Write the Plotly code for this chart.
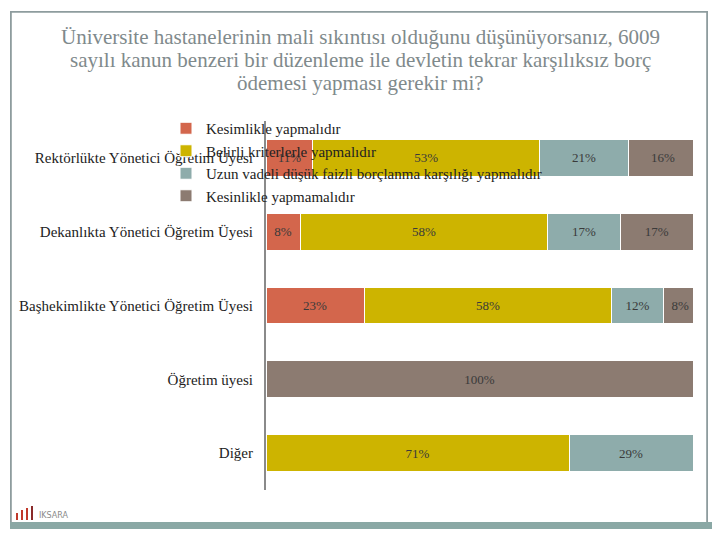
import plotly.graph_objects as go

categories = [
    "Rektörlükte Yönetici Öğretim Üyesi",
    "Dekanlıkta Yönetici Öğretim Üyesi",
    "Başhekimlikte Yönetici Öğretim Üyesi",
    "Öğretim üyesi",
    "Diğer",
]
series_names = [
    "Kesimlikle yapmalıdır",
    "Belirli kriterlerle yapmalıdır",
    "Uzun vadeli düşük faizli borçlanma karşılığı yapmalıdır",
    "Kesinlikle yapmamalıdır",
]
kesinlikle_yapmali = [11, 8, 23, None, None]
belirli_kriter = [53, 58, 58, None, 71]
uzun_vadeli = [21, 17, 12, None, 29]
kesinlikle_yapmamali = [16, 17, 8, 100, None]
series_values = [kesinlikle_yapmali, belirli_kriter, uzun_vadeli, kesinlikle_yapmamali]
colors = ["#d3664c", "#cdb400", "#8eacab", "#8c7b71"]

title_lines = [
    "Üniversite hastanelerinin mali sıkıntısı olduğunu düşünüyorsanız, 6009",
    "sayılı kanun benzeri bir düzenleme ile devletin tekrar karşılıksız borç",
    "ödemesi yapması gerekir mi?",
]

# the page body adds an 8px offset; figure coordinates below are page coords minus 8
OFF = 8
W, H = 712, 532


def px(x):
    return (x - OFF) / W


def py(y):
    return 1 - (y - OFF) / H


def band(x0, x1, y0, y1, color):
    return dict(type="rect", xref="paper", yref="paper", x0=px(x0), x1=px(x1),
                y0=py(y1), y1=py(y0), line=dict(width=0), fillcolor=color, layer="above")


fig = go.Figure()
for name, vals, col in zip(series_names, series_values, colors):
    fig.add_trace(go.Bar(
        y=categories, x=vals, name=name, orientation="h",
        marker=dict(color=col, line=dict(color="white", width=1)),
        texttemplate="%{x}%", textposition="inside", insidetextanchor="middle",
        textangle=0, constraintext="none",
        textfont=dict(family="Liberation Serif", size=13, color="#3a3a3a"),
        hoverinfo="skip",
    ))

# empty helper subplot whose mirrored axis lines draw the slide frame
fig.add_trace(go.Scatter(x=[], y=[], xaxis="x2", yaxis="y2", showlegend=False, hoverinfo="skip"))

logo_bars = []
for i, (h, c) in enumerate([(7, "#c0392b"), (10, "#c0392b"), (12, "#c0392b"), (14, "#8a2a2a")]):
    x0 = 16 + i * 5
    logo_bars.append(band(x0, x0 + 2, 520 - h, 520, c))

frame_col = "#8e9c9e"
shapes = [
    band(10.5, 707.5, 11.5, 12.8, frame_col),
    band(10.5, 11.8, 11.5, 528, frame_col),
    band(706.2, 707.5, 11.5, 528, frame_col),
    band(10, 712, 522, 529, "#8aa8a5"),
] + logo_bars

title_annots = [
    dict(text=t, x=px(360), y=py(37 + 23 * i), xref="paper", yref="paper",
         xanchor="center", yanchor="middle", showarrow=False,
         font=dict(family="Liberation Serif", size=21, color="#7f8a8c"))
    for i, t in enumerate(title_lines)
]

frame_axis = dict(showline=True, mirror=True, linecolor=frame_col, linewidth=1,
                  showticklabels=False, ticks="", showgrid=False, zeroline=False,
                  range=[0, 1], fixedrange=True)

fig.update_layout(
    width=W, height=H, barmode="stack", bargap=0.5,
    margin=dict(l=0, r=0, t=0, b=0),
    paper_bgcolor="white", plot_bgcolor="rgba(0,0,0,0)",
    showlegend=True,
    legend=dict(x=px(166), y=py(112), xanchor="left", yanchor="top",
                bgcolor="rgba(0,0,0,0)", traceorder="normal",
                font=dict(family="Liberation Serif", size=15, color="#222222"),
                itemwidth=30, tracegroupgap=0),
    xaxis=dict(domain=[px(266), px(693)], range=[0, 100], visible=False, fixedrange=True),
    yaxis=dict(domain=[py(490), py(121)], categoryorder="array",
               categoryarray=categories, autorange="reversed",
               showline=True, linecolor="#8a8a8a", linewidth=2,
               ticks="", ticklabelstandoff=8,
               tickfont=dict(family="Liberation Serif", size=15, color="#222222")),
    xaxis2=dict(domain=[px(11), px(707)], anchor="y2", **frame_axis),
    yaxis2=dict(domain=[py(528), py(12)], anchor="x2", **frame_axis),
    annotations=title_annots + [
        dict(text="IKSARA", x=px(37), y=py(515), xref="paper", yref="paper",
             xanchor="left", yanchor="middle", showarrow=False,
             font=dict(family="DejaVu Sans", size=8, color="#8a8a8a")),
    ],
    shapes=shapes,
)
fig.write_html("out.html")
